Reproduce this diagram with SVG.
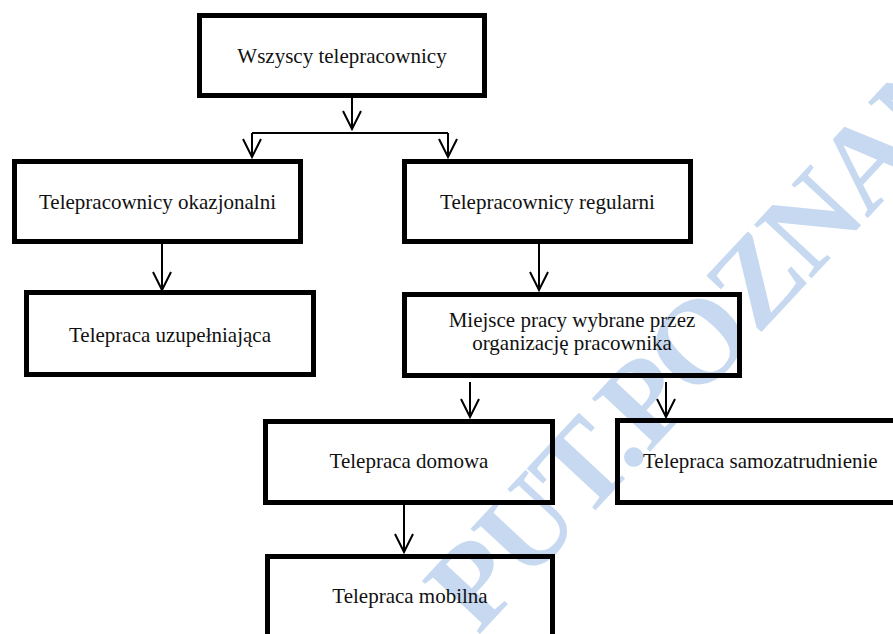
<svg xmlns="http://www.w3.org/2000/svg" width="893" height="634" viewBox="0 0 893 634">
<style>
.box{fill:none;stroke:#000;stroke-width:5}
.lbl{font-family:"Liberation Serif","Times New Roman",serif;font-size:21px;fill:#111;text-anchor:middle}
.con{fill:none;stroke:#000;stroke-width:2}
.wm{font-family:"Liberation Serif","Times New Roman",serif;font-weight:bold;font-size:120px;fill:#c6d9f0}
</style>
<defs>
<marker id="v" markerUnits="userSpaceOnUse" markerWidth="40" markerHeight="40" refX="0" refY="0" orient="auto" overflow="visible">
<path d="M-18,-9 L0,0 L-18,9" fill="none" stroke="#000" stroke-width="2"/>
</marker>
</defs>
<rect width="893" height="634" fill="#fff"/>
<text class="wm" transform="translate(478,636) rotate(-47)" letter-spacing="-3">PUT.POZNAN</text>
<g id="connectors">
<path class="con" d="M352,98 V129" marker-end="url(#v)"/>
<path class="con" d="M252,133 H448"/>
<path class="con" d="M252,133 V157" marker-end="url(#v)"/>
<path class="con" d="M448,133 V157" marker-end="url(#v)"/>
<path class="con" d="M162,244 V290" marker-end="url(#v)"/>
<path class="con" d="M539,244 V290" marker-end="url(#v)"/>
<path class="con" d="M470,382 V417" marker-end="url(#v)"/>
<path class="con" d="M666,382 V417" marker-end="url(#v)"/>
<path class="con" d="M404,505 V552" marker-end="url(#v)"/>
</g>
<g id="n-all"><rect class="box" x="199.5" y="15.5" width="285" height="80"/><text class="lbl" x="342" y="63">Wszyscy telepracownicy</text></g>
<g id="n-okaz"><rect class="box" x="14.5" y="161.5" width="286" height="80"/><text class="lbl" x="157.5" y="209">Telepracownicy okazjonalni</text></g>
<g id="n-reg"><rect class="box" x="404.5" y="161.5" width="286" height="80"/><text class="lbl" x="547.5" y="209">Telepracownicy regularni</text></g>
<g id="n-uzup"><rect class="box" x="26.5" y="292.5" width="287" height="82"/><text class="lbl" x="170" y="342">Telepraca uzupełniająca</text></g>
<g id="n-miejsce"><rect class="box" x="404.5" y="294.5" width="335" height="81"/><text class="lbl" x="572" y="327">Miejsce pracy wybrane przez</text><text class="lbl" x="572" y="350">organizację pracownika</text></g>
<g id="n-dom"><rect class="box" x="265.5" y="421.5" width="287" height="81"/><text class="lbl" x="409" y="468">Telepraca domowa</text></g>
<g id="n-samo"><rect class="box" x="617.5" y="420.5" width="290" height="82"/><text class="lbl" x="643" y="468" style="text-anchor:start">Telepraca samozatrudnienie</text></g>
<g id="n-mob"><rect class="box" x="267.5" y="556.5" width="285" height="100"/><text class="lbl" x="410" y="603">Telepraca mobilna</text></g>
</svg>
